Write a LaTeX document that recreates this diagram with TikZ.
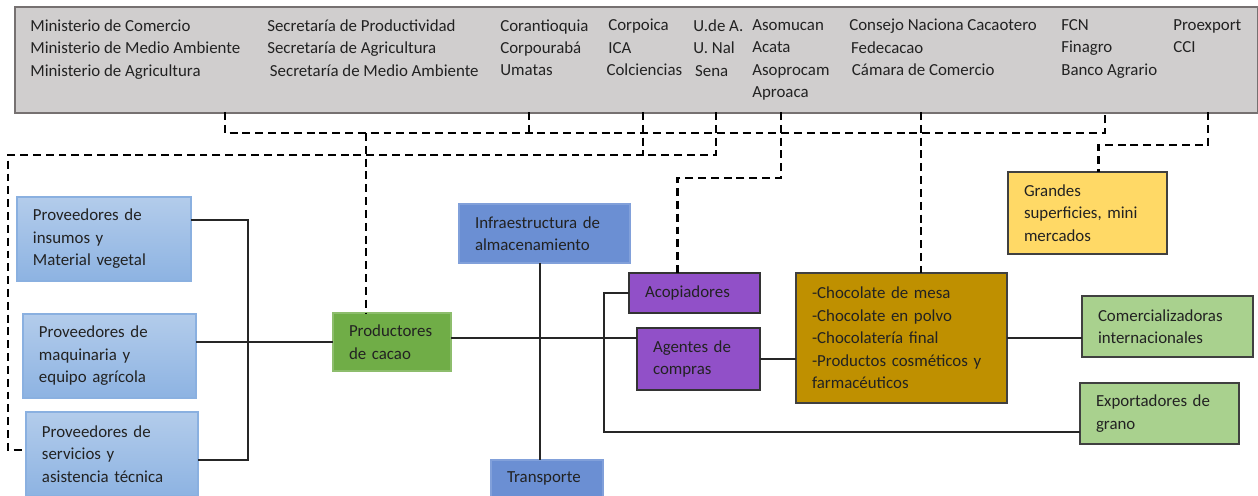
\documentclass[tikz,border=0pt]{standalone}
\usepackage{fontspec}
\setmainfont{Carlito}
\usepackage{tikz}
\usetikzlibrary{calc, positioning}

\definecolor{GrisEnte}{HTML}{D0CECE}
\definecolor{GrisBorde}{HTML}{767171}
\definecolor{AzulClaro}{HTML}{B3CCEB}
\definecolor{AzulMedio}{HTML}{8DB3E2}
\definecolor{AzulBorde}{HTML}{8AB0E0}
\definecolor{AzulLogistica}{HTML}{6B8FD3}
\definecolor{VerdeProductor}{HTML}{70AD47}
\definecolor{MoradoCompra}{HTML}{9150C8}
\definecolor{OroChocolate}{HTML}{BF9000}
\definecolor{VerdeClaro}{HTML}{A9D18E}
\definecolor{AmarilloMercado}{HTML}{FFD966}
\definecolor{Texto}{HTML}{222222}

\begin{document}
\begin{tikzpicture}[x=0.02cm, y=-0.02cm, font=\fontsize{9.6}{12.8}\selectfont,
    caja/.style={anchor=north west, inner xsep=0.32cm, inner ysep=0pt, outer sep=0pt, align=left, text=Texto, line width=0.7pt},
    provee/.style={caja, top color=AzulClaro, bottom color=AzulMedio, draw=AzulBorde},
    logistica/.style={caja, fill=AzulLogistica, draw=AzulLogistica!85!white},
    compra/.style={caja, fill=MoradoCompra, draw=black!80},
    mercado/.style={caja, draw=black!75},
    columna/.style={anchor=north west, inner sep=0pt, align=left, text=Texto, execute at begin node=\strut},
    linea/.style={line width=0.6pt, black!85},
    guion/.style={line width=1.2pt, dash pattern=on 4.5pt off 2.8pt}
  ]
  \useasboundingbox (0,0) rectangle (1258,495);

  % === Entes de apoyo ===
  \node[anchor=north west, fill=GrisEnte, draw=GrisBorde, line width=1pt, inner sep=0pt,
        minimum width=24.86cm, minimum height=2.12cm] (entes) at (14,6) {};
  \node[columna] (ministerios) at (30,19) {Ministerio de Comercio\\Ministerio de Medio Ambiente\\Ministerio de Agricultura};
  \node[columna] (secretarias) at (267,19) {Secretaría de Productividad\\Secretaría de Agricultura\\\hspace{1.5pt}Secretaría de Medio Ambiente};
  \node[columna] (corporaciones) at (500,19) {Corantioquia\\Corpourabá\\Umatas};
  \node[columna] (institutos) at (608,19) {Corpoica\\ICA\\\hspace{-1pt}Colciencias};
  \node[columna] (universidades) at (693,19) {U.de A.\\U. Nal\\\hspace{1pt}Sena};
  \node[columna] (asociaciones) at (752,19) {Asomucan\\Acata\\Asoprocam\\Aproaca};
  \node[columna] (gremios) at (849,19) {Consejo Naciona Cacaotero\\\hspace{1pt}Fedecacao\\\hspace{1.5pt}Cámara de Comercio};
  \node[columna] (financieros) at (1061,19) {FCN\\Finagro\\Banco Agrario};
  \node[columna] (exportacion) at (1173,19) {Proexport\\CCI};

  % === Proveedores ===
  \node[provee, text width=2.84cm, minimum height=1.68cm] (insumos) at (17,197) {Proveedores de\\insumos y\\Material vegetal};
  \node[provee, text width=2.82cm, minimum height=1.68cm] (maquinaria) at (23,314) {Proveedores de\\maquinaria y\\equipo agrícola};
  \node[provee, text width=2.80cm, minimum height=1.68cm] (servicios) at (26,412) {Proveedores de\\servicios y\\asistencia técnica};

  % === Eslabon central ===
  \node[caja, fill=VerdeProductor, draw=VerdeProductor!80!white, text width=1.72cm, minimum height=1.16cm] (productores) at (333,313) {Productores\\de cacao};
  \node[logistica, text width=2.78cm, minimum height=1.18cm] (infra) at (459,204) {Infraestructura de\\almacenamiento};
  \node[logistica, text width=1.60cm, minimum height=0.74cm] (transporte) at (491,460) {Transporte};
  \node[compra, text width=1.98cm, minimum height=0.80cm] (acopiadores) at (629,273) {Acopiadores};
  \node[compra, text width=1.82cm, minimum height=1.24cm] (agentes) at (637,328) {Agentes de\\compras};

  % === Transformacion y mercados ===
  \node[mercado, fill=OroChocolate, text width=3.58cm, minimum height=2.60cm] (chocolate) at (796,273) {-Chocolate de mesa\\-Chocolate en polvo\\-Chocolatería final\\-Productos cosméticos y\\farmacéuticos};
  \node[mercado, fill=AmarilloMercado, text width=2.54cm, minimum height=1.64cm] (grandes) at (1008,172) {Grandes\\superficies, mini\\mercados};
  \node[mercado, fill=VerdeClaro, text width=2.78cm, minimum height=1.22cm] (comercializadoras) at (1082,296) {Comercializadoras\\internacionales};
  \node[mercado, fill=VerdeClaro, text width=2.54cm, minimum height=1.22cm] (exportadores) at (1080,383) {Exportadores de\\grano};

  % === Conexiones ===
  \coordinate (llave) at (248,345);
  \coordinate (retorno) at (604,432);
  \draw[linea] ($(insumos.east)+(0,-19)$) -| (llave) |- ($(servicios.east)+(0,6)$);
  \draw[linea] (maquinaria.east |- productores.west) -- (productores.west);
  \draw[linea] ($(productores.east)+(0,-4)$) -- ($(productores.east -| agentes.west)+(0,-4)$);
  \draw[linea] (infra.south -| 540,0) -- (transporte.north -| 540,0);
  \draw[linea] (acopiadores.west) -| (retorno) -- (retorno -| exportadores.west);
  \draw[linea] (agentes.east) -- (agentes.east -| chocolate.west);
  \draw[linea] (chocolate.east) -- (chocolate.east -| comercializadoras.west);

  % === Apoyo institucional (lineas punteadas) ===
  \coordinate (pA) at (225,112);
  \coordinate (pB) at (529,112);
  \coordinate (pC) at (643,112);
  \coordinate (pD) at (716,112);
  \coordinate (pE) at (781,112);
  \coordinate (pF) at (921,112);
  \coordinate (pG) at (1105,112);
  \coordinate (pH) at (1208,112);
  \coordinate (pP) at (366,133);
  \draw[guion] (pA) -- ++(0,21) -| (pG);
  \draw[guion] (pB) -- ++(0,21);
  \draw[guion] (pC) -- ++(0,43);
  \draw[guion] (pD) -- ++(0,43) -| ($(servicios.west)+(-18,-4)$) -- ($(servicios.west)+(0,-4)$);
  \draw[guion] (pP) -- (pP |- productores.north);
  \draw[guion] (pE) -- ++(0,66) -| ($(acopiadores.north)+(-17,0)$);
  \draw[guion] (pF) -- (pF |- chocolate.north);
  \draw[guion] (pH) -- ++(0,33) -| ($(grandes.north)+(11,0)$);
\end{tikzpicture}
\end{document}
